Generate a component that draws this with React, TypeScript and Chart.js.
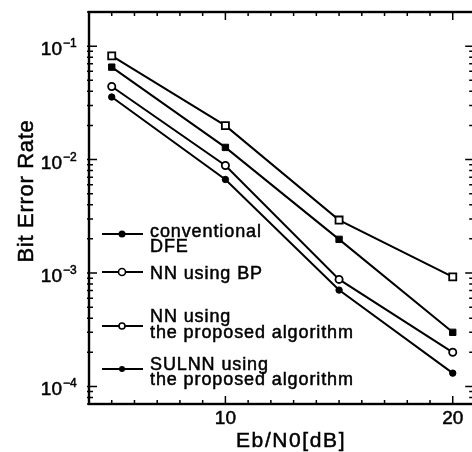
import { useEffect, useRef } from "react";
import { Chart, registerables } from "chart.js";

Chart.register(...registerables);

// ---- data ----
const ebn0 = [5, 10, 15, 20];
const berDFE = [0.0653, 0.0128, 0.00198, 0.0003];
const berBP = [0.0821, 0.0199, 0.00293, 0.000925];
const berNN = [0.0441, 0.00887, 0.000878, 0.0002];
const berSULNN = [0.0356, 0.00668, 0.000707, 0.000131];

const xTickLabels = [10, 20];
const yDecadeExponents = [-1, -2, -3, -4];
const xTitle = "Eb/N0[dB]";
const yTitle = "Bit Error Rate";
const legendLabels: string[][] = [
  ["conventional", "DFE"],
  ["NN using BP"],
  ["NN using", "the proposed algorithm"],
  ["SULNN using", "the proposed algorithm"],
];

const toPoints = (ys: number[]) => ebn0.map((x, i) => ({ x, y: ys[i] }));

const FONT = '"Liberation Sans", Arial, Helvetica, sans-serif';

function heavyText(ctx: CanvasRenderingContext2D, t: string, x: number, y: number) {
  ctx.fillText(t, x, y);
  ctx.lineWidth = 0.5;
  ctx.strokeText(t, x, y);
}

const decorPlugin = {
  id: "decor",
  afterDraw(chart: any) {
    const ctx: CanvasRenderingContext2D = chart.ctx;
    const { left, right, top, bottom } = chart.chartArea;
    const xs = chart.scales.x;
    const ys = chart.scales.y;
    ctx.save();
    ctx.strokeStyle = "#000";
    ctx.fillStyle = "#000";

    // frame
    ctx.lineWidth = 2.4;
    ctx.strokeRect(left, top, right - left, bottom - top);

    // x ticks (inward, top and bottom)
    ctx.lineWidth = 1.5;
    ctx.beginPath();
    for (let v = Math.ceil(xs.min); v <= xs.max; v++) {
      const px = xs.getPixelForValue(v);
      const major = v % 10 === 0;
      const len = major ? 8 : 4;
      ctx.moveTo(px, bottom);
      ctx.lineTo(px, bottom - len);
      ctx.moveTo(px, top);
      ctx.lineTo(px, top + len);
    }
    ctx.stroke();

    // y ticks (log, inward, left and right)
    ctx.beginPath();
    for (let d = -6; d <= 0; d++) {
      for (let m = 1; m <= 9; m++) {
        const v = m * Math.pow(10, d);
        if (v < ys.min || v > ys.max) continue;
        const py = ys.getPixelForValue(v);
        const major = m === 1;
        const len = major ? 8 : 4;
        ctx.moveTo(left - 2, py);
        ctx.lineTo(left + len, py);
        ctx.moveTo(right, py);
        ctx.lineTo(right - len, py);
      }
    }
    ctx.stroke();

    // x tick labels
    ctx.font = `19px ${FONT}`;
    ctx.textAlign = "center";
    ctx.textBaseline = "alphabetic";
    xTickLabels.forEach((v) => {
      heavyText(ctx, String(v), xs.getPixelForValue(v), bottom + 20);
    });

    // y tick labels 10^n
    yDecadeExponents.forEach((e) => {
      const py = ys.getPixelForValue(Math.pow(10, e));
      ctx.font = `19px ${FONT}`;
      ctx.textAlign = "right";
      heavyText(ctx, "10", left - 27, py + 9);
      ctx.font = `12px ${FONT}`;
      ctx.textAlign = "left";
      heavyText(ctx, e < 0 ? "\u2212" + String(-e) : String(e), left - 26, py + 1);
    });

    // axis titles
    (ctx as any).letterSpacing = "1.6px";
    ctx.font = `21px ${FONT}`;
    ctx.textAlign = "left";
    heavyText(ctx, xTitle, 236, 447);

    ctx.save();
    (ctx as any).letterSpacing = "0.7px";
    ctx.font = `22px ${FONT}`;
    ctx.translate(33, 191);
    ctx.rotate(-Math.PI / 2);
    ctx.textAlign = "center";
    heavyText(ctx, yTitle, 0, 0);
    ctx.restore();

    // legend
    const rows = [
      { y: 234, base: [237, 252], r: 3.5, filled: true },
      { y: 272, base: [279], r: 3.5, filled: false },
      { y: 326, base: [322, 338], r: 3, filled: false },
      { y: 369, base: [370, 385], r: 3, filled: true },
    ];
    (ctx as any).letterSpacing = "0.9px";
    ctx.font = `18px ${FONT}`;
    ctx.textAlign = "left";
    rows.forEach((row, i) => {
      ctx.lineWidth = 2;
      ctx.beginPath();
      ctx.moveTo(102, row.y);
      ctx.lineTo(143, row.y);
      ctx.stroke();
      ctx.beginPath();
      ctx.arc(122, row.y, row.r, 0, Math.PI * 2);
      if (row.filled) {
        ctx.fillStyle = "#000";
        ctx.fill();
      } else {
        ctx.fillStyle = "#fff";
        ctx.fill();
        ctx.lineWidth = 1.6;
        ctx.stroke();
      }
      ctx.fillStyle = "#000";
      legendLabels[i].forEach((t, j) => heavyText(ctx, t, 150, row.base[j]));
    });

    ctx.restore();
  },
};

export default function App() {
  const ref = useRef<HTMLCanvasElement | null>(null);

  useEffect(() => {
    if (!ref.current) return;
    const chart = new Chart(ref.current, {
      type: "line",
      data: {
        datasets: [
          {
            label: "conventional DFE",
            data: toPoints(berDFE),
            borderColor: "#000",
            borderWidth: 2,
            pointStyle: "rect",
            pointRadius: 4.5,
            pointBackgroundColor: "#000",
            pointBorderColor: "#000",
            pointBorderWidth: 1,
          },
          {
            label: "NN using BP",
            data: toPoints(berBP),
            borderColor: "#000",
            borderWidth: 2,
            pointStyle: "rect",
            pointRadius: 5,
            pointBackgroundColor: "#fff",
            pointBorderColor: "#000",
            pointBorderWidth: 1.8,
          },
          {
            label: "NN using the proposed algorithm",
            data: toPoints(berNN),
            borderColor: "#000",
            borderWidth: 2,
            pointStyle: "circle",
            pointRadius: 3.6,
            pointBackgroundColor: "#fff",
            pointBorderColor: "#000",
            pointBorderWidth: 1.8,
          },
          {
            label: "SULNN using the proposed algorithm",
            data: toPoints(berSULNN),
            borderColor: "#000",
            borderWidth: 2,
            pointStyle: "circle",
            pointRadius: 3.2,
            pointBackgroundColor: "#000",
            pointBorderColor: "#000",
            pointBorderWidth: 1,
          },
        ],
      },
      options: {
        responsive: false,
        animation: false,
        devicePixelRatio: 1,
        layout: { padding: { top: 12, right: 5, left: 0, bottom: 0 } },
        plugins: { legend: { display: false }, tooltip: { enabled: false }, title: { display: false } },
        scales: {
          x: {
            type: "linear",
            min: 4,
            max: 20.9,
            ticks: { display: false },
            grid: { display: false },
            border: { display: false },
            afterFit: (s: any) => {
              s.height = 48;
            },
          },
          y: {
            type: "logarithmic",
            min: 7.2e-5,
            max: 0.2,
            ticks: { display: false },
            grid: { display: false },
            border: { display: false },
            afterFit: (s: any) => {
              s.width = 89;
            },
          },
        },
      },
      plugins: [decorPlugin],
    });
    return () => chart.destroy();
  }, []);

  return (
    <div style={{ position: "fixed", left: 0, top: 0, width: 480, height: 452, background: "#fff" }}>
      <canvas ref={ref} width={480} height={452} style={{ display: "block", width: 480, height: 452 }} />
    </div>
  );
}
